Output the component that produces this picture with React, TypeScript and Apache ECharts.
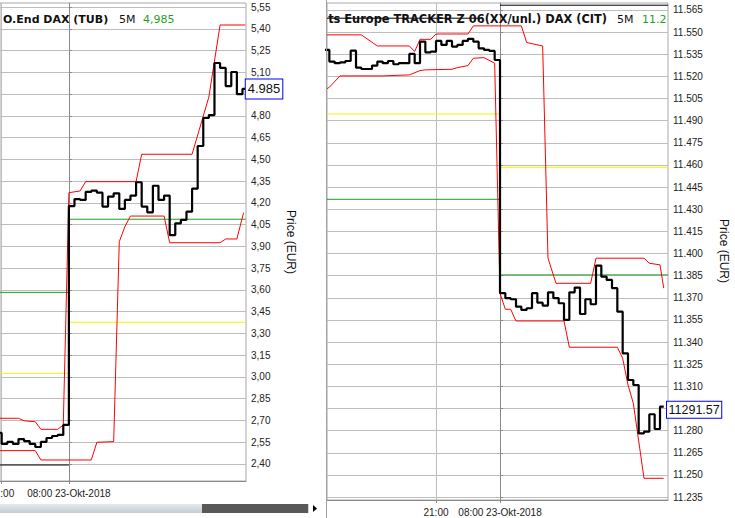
import React, { useEffect, useRef } from 'react';
import * as echarts from 'echarts';

// ---------- shared x axis (bar index, 0 = 08:00 23-Okt-2018) ----------
const xTickIdx = [-12, 0];
const xTickText = ['21:00', '08:00 23-Okt-2018'];

// ---------- left panel: O.End DAX (TUB) ----------
const leftTitle = 'O.End DAX (TUB)';
const leftPeriod = '5M';
const leftLast = '4,985';
const leftLastBox = '4.985';
const leftYTicks = [2.40, 2.55, 2.70, 2.85, 3.00, 3.15, 3.30, 3.45, 3.60, 3.75, 3.90, 4.05, 4.20, 4.35, 4.50, 4.65, 4.80, 4.95, 5.10, 5.25, 5.40, 5.55];
// labels hidden under the last-price box in the reference
const leftYLabels = [2.40, 2.55, 2.70, 2.85, 3.00, 3.15, 3.30, 3.45, 3.60, 3.75, 3.90, 4.05, 4.20, 4.35, 4.50, 4.65, 4.80, 5.10, 5.25, 5.40, 5.55];
const leftCloseStart = -13;
const leftClose = [
  2.614, 2.538, 2.552, 2.538, 2.572, 2.558, 2.538, 2.517, 2.552, 2.579, 2.593, 2.600, 2.669,
  4.178, 4.226, 4.220, 4.275, 4.284, 4.270, 4.174, 4.243, 4.266, 4.158, 4.220, 4.250, 4.342,
  4.174, 4.135, 4.318, 4.220, 4.250, 3.978, 4.059, 4.082, 4.139, 4.298, 4.592, 4.785, 4.805,
  5.164, 5.130, 5.005, 5.102, 4.950, 4.985,
];
const leftCloseEnd = 31.5;
const leftUpperX = [-13, -9, -8, -6, -5, -2, -1, 0, 2, 3, 12, 13, 22, 25, 27, 31.5];
const leftUpper = [2.715, 2.715, 2.698, 2.691, 2.639, 2.639, 2.669, 4.270, 4.282, 4.346, 4.346, 4.535, 4.535, 4.930, 5.426, 5.426];
const leftLowerX = [-13, -6, -5, 4, 5, 8, 9, 10, 11, 17, 18, 27, 28, 30, 31.2];
const leftLower = [2.492, 2.492, 2.4275, 2.4275, 2.5495, 2.554, 3.932, 4.036, 4.109, 4.109, 3.925, 3.925, 3.951, 3.951, 4.132];
const leftSpans = [[-13, 0], [0, 31.6]];
const leftGreen = [3.583, 4.087];
const leftYellow = [3.025, 3.377];
const leftBlackRef = [2.393];

// ---------- right panel: ... TRACKER Z 06 DAX (CIT) ----------
const rightTitle = 'ts Europe TRACKER Z 06(XX/unl.) DAX (CIT)';
const rightPeriod = '5M';
const rightLast = '11.2';
const rightLastBox = '11291.57';
const rightYTicks = [11.235, 11.250, 11.265, 11.280, 11.295, 11.310, 11.325, 11.340, 11.355, 11.370, 11.385, 11.400, 11.415, 11.430, 11.445, 11.460, 11.475, 11.490, 11.505, 11.520, 11.535, 11.550, 11.565];
const rightYLabels = [11.235, 11.250, 11.265, 11.280, 11.310, 11.325, 11.340, 11.355, 11.370, 11.385, 11.400, 11.415, 11.430, 11.445, 11.460, 11.475, 11.490, 11.505, 11.520, 11.535, 11.550, 11.565];
const rightCloseStart = -33;
const rightClose = [
  11.5379, 11.5300, 11.5289, 11.5295, 11.5304, 11.5374, 11.5259, 11.5250, 11.5250, 11.5273,
  11.5300, 11.5289, 11.5304, 11.5282, 11.5289, 11.5289, 11.5352, 11.5289, 11.5435, 11.5363,
  11.5368, 11.5440, 11.5413, 11.5440, 11.5402, 11.5413, 11.5440, 11.5454, 11.5435, 11.5390,
  11.5379, 11.5372, 11.5311,
  11.3731, 11.3697, 11.3690, 11.3640, 11.3618, 11.3629, 11.3731, 11.3667, 11.3647, 11.3737,
  11.3697, 11.3663, 11.3550, 11.3737, 11.3769, 11.3590, 11.3690, 11.3656, 11.3918, 11.3843,
  11.3821, 11.3765, 11.3606, 11.3324, 11.3143, 11.3109, 11.2782, 11.2793, 11.2911, 11.2811,
  11.2962,
];
const rightCloseEnd = 30.7;
const rightUpperX = [-33, -26, -23, -17, -16, -15, -13, -12, -6, -5, 4, 5, 8, 9, 10.5, 17, 18, 27, 28, 30, 30.7];
const rightUpper = [11.5481, 11.5481, 11.5406, 11.5406, 11.5368, 11.5451, 11.5451, 11.5487, 11.5487, 11.5542, 11.5542, 11.5429, 11.5406, 11.3968, 11.3798, 11.3798, 11.3968, 11.3968, 11.3934, 11.3923, 11.3765];
const rightLowerX = [-33, -32, -30, -22, -17, -15, -14, -9, -8, -6, -5, -3, -1, 0, 1, 2, 3, 12, 13, 22, 23, 24, 25, 27, 30.7];
const rightLower = [11.5105, 11.5126, 11.5203, 11.5203, 11.5210, 11.5239, 11.5244, 11.5248, 11.5259, 11.5273, 11.5323, 11.5327, 11.5289, 11.3731, 11.3622, 11.3622, 11.3543, 11.3543, 11.3365, 11.3365, 11.3290, 11.3109, 11.2985, 11.2477, 11.2477];
const rightSpans = [[-33, 0], [0, 31.5]];
const rightGreen = [11.4367, 11.3855];
const rightYellow = [11.4945, 11.4584];
const rightBlackSpans = [[-33, -4], [0, 31.5]];
const rightBlackRef = [11.5594, 11.5682];

const AXIS_FONT = '"Liberation Sans", Arial, sans-serif';
const TITLE_FONT = '"DejaVu Sans", Verdana, sans-serif';
const GREEN = '#1f9f1f';
const YELLOW = '#f4f400';

function stepData(start: number, vals: number[], end: number) {
  const d = vals.map((v, k) => [start + k, v]);
  d.push([end, vals[vals.length - 1]]);
  return d;
}
function pairs(xs: number[], ys: number[]) {
  return xs.map((x, k) => [x, ys[k]]);
}
function refSeries(axis: number, spans: number[][], levels: number[], color: string) {
  return levels.map((v, k) => ({
    type: 'line',
    xAxisIndex: axis,
    yAxisIndex: axis,
    data: [[spans[k][0], v], [spans[k][1], v]],
    showSymbol: false,
    symbol: 'none',
    silent: true,
    lineStyle: { color, width: 1 },
    z: 2,
  }));
}

export default function App() {
  const ref = useRef<HTMLDivElement>(null);
  useEffect(() => {
    if (!ref.current) return;
    const chart = echarts.init(ref.current, undefined, { renderer: 'svg' });

    const xAxisCommon = (gridIndex: number, min: number, max: number) => ({
      type: 'value',
      gridIndex,
      min,
      max,
      position: 'bottom',
      axisLine: { show: true, lineStyle: { color: '#8a8a8a', width: 1 } },
      axisTick: { show: true, customValues: xTickIdx, length: 3, lineStyle: { color: '#8a8a8a' } },
      axisLabel: {
        show: true,
        customValues: xTickIdx,
        formatter: (v: number) => xTickText[xTickIdx.indexOf(Math.round(v))] ?? '',
        margin: 7,
        fontSize: 10,
        fontFamily: AXIS_FONT,
        color: '#222',
      },
      splitLine: { show: true, lineStyle: { color: '#bdbdbd', width: 1 } },
    });
    const yAxisCommon = (gridIndex: number, min: number, max: number, ticks: number[], labels: number[], fmt: (v: number) => string) => ({
      type: 'value',
      gridIndex,
      min,
      max,
      position: 'right',
      scale: true,
      axisLine: { show: true, lineStyle: { color: '#8a8a8a', width: 1 } },
      axisTick: { show: true, customValues: ticks, length: 3, lineStyle: { color: '#8a8a8a' } },
      axisLabel: {
        show: true,
        customValues: labels,
        formatter: fmt,
        margin: 5,
        fontSize: 10,
        fontFamily: AXIS_FONT,
        color: '#222',
      },
      splitLine: { show: true, lineStyle: { color: '#bdbdbd', width: 1 } },
    });

    const bandSeries = (axis: number, data: number[][]) => ({
      type: 'line',
      xAxisIndex: axis,
      yAxisIndex: axis,
      data,
      showSymbol: false,
      symbol: 'none',
      silent: true,
      lineStyle: { color: '#ff0000', width: 1 },
      z: 3,
    });

    const closeSeries = (axis: number, data: number[][], label: string, distance: number, offsetY: number, fontSize: number, lineHeight: number, padding: number[]) => ({
      type: 'line',
      xAxisIndex: axis,
      yAxisIndex: axis,
      data,
      step: 'end',
      showSymbol: false,
      symbol: 'none',
      silent: true,
      lineStyle: { color: '#000', width: 2.2 },
      z: 4,
      endLabel: {
        show: true,
        formatter: () => label,
        distance,
        offset: [0, offsetY],
        backgroundColor: '#fff',
        borderColor: '#0000ee',
        borderWidth: 1,
        padding,
        fontSize,
        lineHeight,
        fontFamily: AXIS_FONT,
        color: '#111',
      },
    });

    const titleText = (x: number, text: string, bold: boolean, color: string, size: number, align = 'left') => ({
      type: 'text',
      x,
      y: 19,
      z: 10,
      style: {
        text,
        fill: color,
        font: `${bold ? 'bold ' : ''}${size}px ${TITLE_FONT}`,
        textAlign: align,
        textVerticalAlign: 'middle',
      },
    });

    chart.setOption({
      animation: false,
      backgroundColor: '#ffffff',
      grid: [
        { left: 0, top: 3, width: 246, height: 478, show: true, borderColor: '#a8a8a8', borderWidth: 1, backgroundColor: 'transparent', containLabel: false, outerBoundsMode: 'none' },
        { left: 327, top: 3, width: 341, height: 497, show: true, borderColor: '#a8a8a8', borderWidth: 1, backgroundColor: 'transparent', containLabel: false, outerBoundsMode: 'none' },
      ],
      xAxis: [xAxisCommon(0, -12.3, 31.63), xAxisCommon(1, -32.44, 31.5)],
      yAxis: [
        yAxisCommon(0, 2.2827, 5.5776, leftYTicks, leftYLabels, (v: number) => v.toFixed(2).replace('.', ',')),
        yAxisCommon(1, 11.233, 11.5697, rightYTicks, rightYLabels, (v: number) => v.toFixed(3)),
      ],
      series: [
        ...refSeries(0, leftSpans, leftBlackRef, '#000'),
        ...refSeries(0, leftSpans, leftYellow, YELLOW),
        ...refSeries(0, leftSpans, leftGreen, GREEN),
        bandSeries(0, pairs(leftUpperX, leftUpper)),
        bandSeries(0, pairs(leftLowerX, leftLower)),
        closeSeries(0, stepData(leftCloseStart, leftClose, leftCloseEnd), leftLastBox, 0.5, 0, 13, 15, [2, 2, 2, 2]),
        ...refSeries(1, rightBlackSpans, rightBlackRef, '#000'),
        ...refSeries(1, rightSpans, rightYellow, YELLOW),
        ...refSeries(1, rightSpans, rightGreen, GREEN),
        bandSeries(1, pairs(rightUpperX, rightUpper)),
        bandSeries(1, pairs(rightLowerX, rightLower)),
        closeSeries(1, stepData(rightCloseStart, rightClose, rightCloseEnd), rightLastBox, 3.3, 3, 12.5, 14, [1, 1.5, 1, 1.5]),
      ],
      graphic: [
        titleText(3, leftTitle, true, '#111', 11),
        titleText(119, leftPeriod, false, '#111', 11),
        titleText(143, leftLast, false, GREEN, 11),
        titleText(607, rightTitle, true, '#111', 11.4, 'right'),
        titleText(617, rightPeriod, false, '#111', 11),
        titleText(642, rightLast, false, GREEN, 11),
        {
          type: 'text', x: 291, y: 242, rotation: -Math.PI / 2, z: 10,
          style: { text: 'Price (EUR)', fill: '#111', font: `12px ${AXIS_FONT}`, textAlign: 'center', textVerticalAlign: 'middle' },
        },
        {
          type: 'text', x: 724, y: 251, rotation: -Math.PI / 2, z: 10,
          style: { text: 'Price (EUR)', fill: '#111', font: `12px ${AXIS_FONT}`, textAlign: 'center', textVerticalAlign: 'middle' },
        },
        {
          type: 'line', z: 10,
          shape: { x1: 326.5, y1: 0, x2: 326.5, y2: 518 },
          style: { stroke: '#a0a0a0', lineWidth: 1 },
        },
        {
          type: 'rect', z: 10,
          shape: { x: 0, y: 504, width: 202, height: 9 },
          style: {
            fill: new echarts.graphic.LinearGradient(0, 0, 0, 1, [
              { offset: 0, color: '#e4e9ec' },
              { offset: 1, color: '#c4ced4' },
            ]),
          },
        },
        {
          type: 'rect', z: 10,
          shape: { x: 202, y: 504, width: 106, height: 9 },
          style: { fill: '#585858' },
        },
        {
          type: 'rect', z: 10,
          shape: { x: 308, y: 504, width: 1, height: 9 },
          style: { fill: '#d0d8dc' },
        },
        {
          type: 'polygon', z: 10,
          shape: { points: [[313, 505], [317, 508.5], [313, 512]] },
          style: { fill: '#000' },
        },
      ],
    });
    return () => chart.dispose();
  }, []);
  return (
    <div
      ref={ref}
      style={{ position: 'fixed', left: 0, top: 0, width: 735, height: 518, background: '#fff' }}
    />
  );
}
